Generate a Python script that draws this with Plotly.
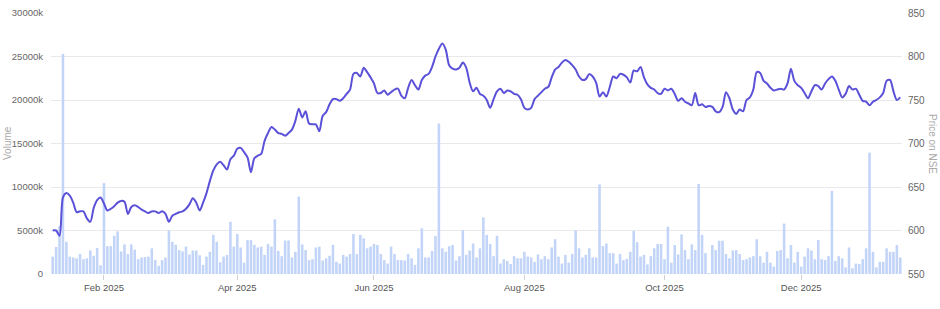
import pandas as pd
import plotly.graph_objects as go

# ---- data -------------------------------------------------------------
holidays = ["2025-02-26", "2025-03-14", "2025-03-31", "2025-04-10", "2025-04-14",
            "2025-04-18", "2025-05-01", "2025-08-15", "2025-08-27", "2025-10-02",
            "2025-10-22", "2025-11-05", "2025-12-25"]
special_sessions = ["2025-02-01"]  # budget-day Saturday session
days = pd.bdate_range("2025-01-13", "2026-01-12")
days = days[~days.isin(pd.to_datetime(holidays))]
days = days.union(pd.to_datetime(special_sessions))
dates = [d.strftime("%Y-%m-%d") for d in days]

volume_k = [
    2000, 3100, 5500, 25300,
    3700, 2000, 1900, 1800, 2300, 1700, 1800, 2700, 2100, 3000, 1000,
    10450,
    3200, 3200, 4400, 4900, 2600, 3400, 2300, 3400, 2800, 1700, 1900, 1950, 2000, 2950, 1600,
    950, 1600, 1900,
    5000, 3700, 3350, 2750, 2600, 3150, 2250, 2700, 2700, 2150,
    1050, 2000, 2550, 4500, 3700, 1350, 2000, 2200, 6000, 3150, 4600, 3050, 1300, 3900, 3900,
    3350, 3050, 3150, 2200, 3450, 3150, 6300, 2650, 2050, 3850, 3850, 1900, 2550, 8900,
    3400, 2750, 1600, 1700, 3050, 3150, 1550, 1800, 2100, 3350,
    1400, 1200, 2200, 2000, 2300, 4600, 2300, 4500, 4100, 2950, 3150, 3450, 3330, 2300, 1600,
    1200, 3150, 2300, 1600, 1600, 1550, 2300, 1800, 1050, 2950, 5250, 1900, 1900, 2650, 4350,
    17300,
    2950, 2550, 3200, 3330, 1550, 2050, 5050, 2200, 2700, 3500, 1900,
    2950, 6500, 4500, 3450, 2050, 4400, 1200, 1700, 1500, 1150, 2050, 1800, 1800, 2550, 2000,
    1900, 1400, 2250, 1700, 2050, 1700, 3050, 4000, 2000, 1200, 2200, 1300, 2300, 5000, 2950,
    1900, 2200, 2950, 1900, 1900, 10300, 3200, 3500, 2400, 2400, 1200,
    2300, 1600, 1750, 2550, 4950, 3650, 2000, 2200, 1100, 2050, 2950, 3450, 3450, 1700, 5450,
    1300, 3330, 2250, 4550, 2750, 1700, 3400, 2750, 10350, 4500, 2400, 80,
    3330, 2750, 3830, 3830, 2300, 1800, 2700, 2750, 2300, 1600, 1700, 1900, 2050,
    4000, 2050, 1300, 2550, 1300, 850, 2650, 2750, 5800, 1800, 3330, 1300, 2550, 850, 2000,
    2950, 2700, 1700, 3900, 1700, 1600, 2050, 9550,
    1500, 2050, 1800, 750, 3050, 650, 1200, 1150, 1700, 2950, 13950,
    2550, 750, 1400, 1400, 2950, 2550, 2550, 3330, 1900,
]

price = [
    600, 600, 594, 638, 643, 640, 632, 621, 622, 622, 614, 610, 626, 635, 638,
    631, 623, 625, 628, 632, 634, 633, 619, 627, 629, 627, 624, 622, 620, 622,
    622, 620, 622, 619, 610, 617, 619, 621, 622, 625, 630, 637, 632, 623, 632,
    643, 657, 669, 676, 679, 675, 670, 682, 686, 694, 695, 690, 684, 667, 683,
    686, 688, 703, 712, 719, 716, 712, 711, 709, 712, 716, 726, 740, 730, 737,
    723, 722, 722, 714, 732, 736, 745, 751, 751, 749, 752, 757, 762, 780, 781,
    777, 787, 782, 776, 769, 758, 758, 761, 756, 759, 762, 763, 755, 752, 764,
    773, 767, 762, 773, 778, 780, 788, 800, 809, 815, 808, 790, 786, 785, 787,
    793, 787, 770, 760, 764, 757, 755, 750, 741, 751, 760, 763, 758, 761, 760,
    757, 756, 751, 741, 739, 741, 751, 755, 759, 763, 765, 776, 785, 788, 793,
    796, 794, 790, 785, 777, 773, 774, 780, 777, 770, 754, 759, 754, 765, 777,
    775, 780, 779, 776, 770, 784, 783, 788, 776, 768, 764, 762, 758, 757, 763,
    761, 763, 757, 749, 752, 748, 746, 744, 758, 744, 745, 742, 743, 742, 737,
    736, 742, 759, 752, 739, 734, 739, 737, 750, 753, 762, 782, 781, 772, 769,
    764, 761, 762, 763, 762, 769, 786, 772, 767, 764, 758, 752, 760, 767, 766,
    762, 769, 774, 777, 772, 762, 753, 757, 766, 762, 763, 756, 749, 748, 744,
    748, 750, 753, 758, 772, 773, 760, 750, 753,
]

tick_dates = ["2025-02-01", "2025-04-01", "2025-06-02", "2025-08-01", "2025-10-01", "2025-12-01"]
tick_labels = ["Feb 2025", "Apr 2025", "Jun 2025", "Aug 2025", "Oct 2025", "Dec 2025"]
vol_ticks = [0, 5000, 10000, 15000, 20000, 25000, 30000]
price_ticks = [550, 600, 650, 700, 750, 800, 850]

n = min(len(dates), len(volume_k), len(price))
dates, volume_k, price = dates[:n], volume_k[:n], price[:n]

# ---- figure -----------------------------------------------------------
font = "Liberation Sans, Arial, sans-serif"
fig = go.Figure()
fig.add_trace(go.Bar(x=dates, y=[v * 1000 for v in volume_k], marker=dict(color="#c2d4f8", line=dict(width=0)),
                     name="Volume", yaxis="y"))
fig.add_trace(go.Scatter(x=dates, y=price, mode="lines", line=dict(color="#5b51d8", width=2, shape="spline",
                         smoothing=0.8), name="Price", yaxis="y2"))

fig.update_layout(
    width=940, height=309,
    margin=dict(l=51, r=38, t=13, b=35, autoexpand=False),
    paper_bgcolor="white", plot_bgcolor="white",
    showlegend=False, bargap=0.25,
    font=dict(family=font, size=10, color="#666"),
    xaxis=dict(type="category", range=[-0.5, n - 0.5], tickmode="array", tickvals=tick_dates,
               ticktext=tick_labels, ticks="outside", ticklen=5, tickcolor="#d0d0d0", showgrid=False,
               showline=False, zeroline=False, automargin=False, tickfont=dict(size=9.5, color="#555")),
    yaxis=dict(range=[0, 30000000], tickmode="array", tickvals=[v * 1000 for v in vol_ticks],
               ticktext=["0"] + [f"{v}k" for v in vol_ticks[1:]], showgrid=True, gridcolor="#e9e9e9",
               gridwidth=1, zeroline=False, showline=False, ticklabelstandoff=7, automargin=False,
               tickfont=dict(size=9.5, color="#666")),
    yaxis2=dict(range=[550, 850], overlaying="y", side="right", tickmode="array", tickvals=price_ticks,
                showgrid=False, zeroline=False, showline=False, ticklabelstandoff=5, automargin=False,
                tickfont=dict(size=10, color="#666")),
    annotations=[
        dict(text="Volume", xref="paper", yref="paper", x=-(51 - 7.5) / 851, y=0.5, xanchor="center",
             yanchor="middle", textangle=-90, showarrow=False, font=dict(size=10, color="#aaa")),
        dict(text="Price on NSE", xref="paper", yref="paper", x=1.0 + 30.5 / 851, y=0.5, xanchor="center",
             yanchor="middle", textangle=90, showarrow=False, font=dict(size=10, color="#aaa")),
    ],
)
fig.write_html("out.html")
